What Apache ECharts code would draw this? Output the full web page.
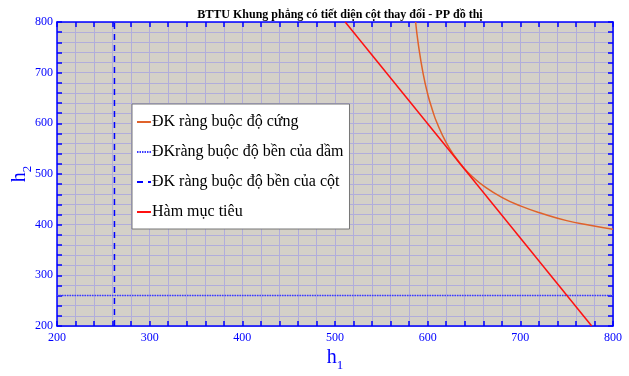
<!DOCTYPE html>
<html><head><meta charset="utf-8">
<script src="https://cdn.jsdelivr.net/npm/echarts@6/dist/echarts.min.js"></script>
<style>html,body{margin:0;padding:0;background:#fff}#c{width:629px;height:376px}</style>
</head><body><div id="c"></div>
<script>
// Data
const titleText = 'BTTU Khung phẳng có tiết diện cột thay đổi - PP đồ thị';
const seriesNames = ['ĐK ràng buộc độ cứng', 'ĐKràng buộc độ bền của dầm', 'ĐK ràng buộc độ bền của cột', 'Hàm mục tiêu'];
const stiffH1 = [587, 590, 595, 600, 605, 610, 620, 630, 640, 650, 660, 680, 700, 725, 750, 775, 800];
const stiffH2 = [800, 755, 699, 658, 627, 601, 562, 533, 510, 492, 477, 454, 437, 421, 408, 399, 391];
const beamH1 = [200, 800];
const beamH2 = [260, 260];
const colH1 = [262, 262];
const colH2 = [200, 800];
const objH1 = [511, 777];
const objH2 = [800, 200];
const axisMin = 200, axisMax = 800, axisStep = 20, labelStep = 100;

const zip = (a, b) => a.map((v, i) => [v, b[i]]);
const serif = 'Liberation Serif';
const blue = '#0000ff';
const chart = echarts.init(document.getElementById('c'));
const baseAxis = {
  type: 'value', min: axisMin, max: axisMax, interval: axisStep,
  axisLine: { show: true, onZero: false, lineStyle: { color: blue, width: 1.5 } },
  axisTick: { show: true, inside: true, length: 5, lineStyle: { color: blue, width: 1.5 } },
  splitLine: { show: false },
  axisLabel: { show: false }
};
const labelFmt = v => (v % labelStep === 0 ? String(v) : '');
const gridColor = '#b1addb';
chart.setOption({
  animation: false,
  backgroundColor: '#fff',
  title: { text: titleText, left: 335, textAlign: 'center', top: 4,
    textStyle: { fontFamily: serif, fontWeight: 'bold', fontSize: 12, color: '#000' } },
  grid: { left: 57, right: 16, top: 22, bottom: 50, show: true, backgroundColor: '#d4d0c8', borderWidth: 0,
    containLabel: false, outerBoundsMode: 'none' },
  legend: {
    orient: 'vertical', left: 132, top: 104, width: 220,
    data: seriesNames,
    backgroundColor: '#fff', borderColor: '#777', borderWidth: 1,
    padding: [10, 6, 9, 4], itemGap: 14, itemWidth: 14, itemHeight: 14,
    itemStyle: { opacity: 0 },
    textStyle: { fontFamily: serif, fontSize: 16, color: '#000', padding: [0, 0, 0, -4] }
  },
  xAxis: [
    Object.assign({}, baseAxis, {
      position: 'bottom',
      axisLabel: { show: true, formatter: labelFmt, color: blue, fontFamily: serif, fontSize: 12, margin: 6 },
      splitLine: { show: true, lineStyle: { color: gridColor, width: 1 } },
      name: '{h|h}{s|1}', nameLocation: 'middle', nameGap: 17, nameMoveOverlap: false,
      nameTextStyle: { rich: { h: { fontFamily: serif, fontSize: 20, color: blue }, s: { fontFamily: serif, fontSize: 13, color: blue, padding: [16, 0, 0, 0] } } }
    }),
    Object.assign({}, baseAxis, { position: 'top' })
  ],
  yAxis: [
    Object.assign({}, baseAxis, {
      position: 'left',
      axisLabel: { show: true, formatter: labelFmt, color: blue, fontFamily: serif, fontSize: 12, margin: 4 },
      splitLine: { show: true, lineStyle: { color: gridColor, width: 1 } },
      name: '{h|h}{s|2}', nameLocation: 'middle', nameGap: 22.5, nameRotate: 90, nameMoveOverlap: false,
      nameTextStyle: { rich: { h: { fontFamily: serif, fontSize: 20, color: blue }, s: { fontFamily: serif, fontSize: 13, color: blue, padding: [16, 0, 0, 0] } } }
    }),
    Object.assign({}, baseAxis, { position: 'right' })
  ],
  series: [
    { name: seriesNames[0], type: 'line', data: zip(stiffH1, stiffH2), smooth: true, symbol: 'none', clip: true,
      lineStyle: { color: '#e0622a', width: 1.5 }, itemStyle: { color: '#e0622a' } },
    { name: seriesNames[1], type: 'line', data: zip(beamH1, beamH2), symbol: 'none',
      lineStyle: { color: '#3a3aff', width: 1.5, type: [1.5, 1] }, itemStyle: { color: '#3a3aff' } },
    { name: seriesNames[2], type: 'line', data: zip(colH1, colH2), symbol: 'none',
      lineStyle: { color: blue, width: 1.5, type: [6, 5] }, itemStyle: { color: blue } },
    { name: seriesNames[3], type: 'line', data: zip(objH1, objH2), symbol: 'none',
      lineStyle: { color: '#ff1010', width: 1.5 }, itemStyle: { color: '#ff1010' } }
  ]
});
</script></body></html>
